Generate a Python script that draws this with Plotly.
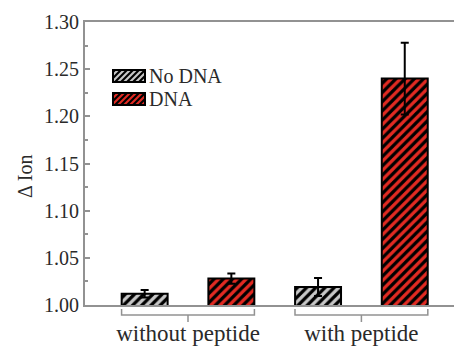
import plotly.graph_objects as go

# ---- data ----
groups = ["without peptide", "with peptide"]
series_names = ["No DNA", "DNA"]
no_dna = [1.012, 1.019]
no_dna_err = [0.004, 0.0095]
dna = [1.028, 1.240]
dna_err = [0.0055, 0.038]
ytick_vals = [1.00, 1.05, 1.10, 1.15, 1.20, 1.25, 1.30]
ytick_text = ["1.00", "1.05", "1.10", "1.15", "1.20", "1.25", "1.30"]

# ---- styling ----
W, H = 454, 346
ML, MR, MT, MB = 85, 0, 22, 41
PW, PH = W - ML - MR, H - MT - MB
XR = [-0.594, 1.534]
YR = [1.0, 1.30]
FONT = "Liberation Serif"
GRAY_FILL = "#c8c8c8"
RED_FILL = "#e22a22"
AXIS_COL = "#929292"
TXT_COL = "#2a2a2a"


def px2paper(px, py):
    return (px - ML) / PW, (H - MB - py) / PH


def cat2paper(x):
    return (x - XR[0]) / (XR[1] - XR[0])


fig = go.Figure()
for name, vals, errs, col in [
    (series_names[0], no_dna, no_dna_err, GRAY_FILL),
    (series_names[1], dna, dna_err, RED_FILL),
]:
    fig.add_trace(go.Bar(
        x=groups, y=vals, name=name, showlegend=False,
        marker=dict(
            color=col,
            line=dict(color="black", width=2),
            pattern=dict(shape="/", size=6.5, solidity=0.5, fgcolor="black",
                         bgcolor=col, fillmode="replace"),
        ),
        error_y=dict(type="data", array=errs, visible=True, color="black",
                     thickness=2, width=4),
    ))

shapes = []
# group brackets below the x axis
for i, g in enumerate(groups):
    xa = cat2paper(i - 0.383)
    xb = cat2paper(i + 0.383)
    xm = cat2paper(i)
    _, y_top = px2paper(0, 309)
    _, y_mid = px2paper(0, 315)
    _, y_bot = px2paper(0, 322)
    shapes.append(dict(type="path", xref="paper", yref="paper",
                       path=f"M{xa},{y_top} L{xa},{y_mid} L{xb},{y_mid} L{xb},{y_top} M{xm},{y_mid} L{xm},{y_bot}",
                       line=dict(color=AXIS_COL, width=1.5)))

# custom legend swatches
annotations = []
legend_rows = [(series_names[0], GRAY_FILL, 70, 82), (series_names[1], RED_FILL, 93, 105)]
for name, col, y0, y1 in legend_rows:
    x0, x1 = 113, 145
    p0 = px2paper(x0, y1)
    p1 = px2paper(x1, y0)
    shapes.append(dict(type="rect", xref="paper", yref="paper", x0=p0[0], y0=p0[1],
                       x1=p1[0], y1=p1[1], fillcolor=col, line=dict(width=0)))
    step = 6
    c = x0 + y0 + 2
    while c < x1 + y1:
        xa = max(x0, c - y1)
        xb = min(x1, c - y0)
        if xb > xa:
            a = px2paper(xa, c - xa)
            b = px2paper(xb, c - xb)
            shapes.append(dict(type="line", xref="paper", yref="paper",
                               x0=a[0], y0=a[1], x1=b[0], y1=b[1],
                               line=dict(color="black", width=2.2)))
        c += step
    shapes.append(dict(type="rect", xref="paper", yref="paper", x0=p0[0], y0=p0[1],
                       x1=p1[0], y1=p1[1], line=dict(color="black", width=2)))
    tx, ty = px2paper(147, (y0 + y1) / 2)
    annotations.append(dict(text=name, x=tx, y=ty, xref="paper", yref="paper",
                            xanchor="left", yanchor="middle", showarrow=False,
                            font=dict(family=FONT, size=20, color=TXT_COL)))

# y axis title
tx, ty = px2paper(25, 177)
annotations.append(dict(text="Δ Ion", x=tx, y=ty, xref="paper", yref="paper",
                        xanchor="center", yanchor="middle", textangle=-90,
                        showarrow=False, font=dict(family=FONT, size=20, color=TXT_COL)))

fig.update_layout(
    width=W, height=H,
    margin=dict(l=ML, r=MR, t=MT, b=MB, pad=0),
    paper_bgcolor="white", plot_bgcolor="white",
    barmode="group", bargap=0.0, bargroupgap=0.47,
    font=dict(family=FONT, size=20, color=TXT_COL),
    shapes=shapes, annotations=annotations,
    showlegend=False,
)
fig.update_xaxes(
    type="category", range=XR, showline=True, linecolor=AXIS_COL, linewidth=2,
    mirror=True, ticks="", showgrid=False, zeroline=False,
    tickfont=dict(family=FONT, size=23, color=TXT_COL),
    ticklabelstandoff=6, automargin=False,
)
fig.update_yaxes(
    range=YR, showline=True, linecolor=AXIS_COL, linewidth=2, mirror=False,
    tickvals=ytick_vals, ticktext=ytick_text, ticks="inside", ticklen=5,
    tickwidth=1.5, tickcolor=AXIS_COL, showgrid=False, zeroline=False,
    tickfont=dict(family=FONT, size=20, color=TXT_COL),
    minor=dict(dtick=0.025, ticks="inside", ticklen=3, tickcolor=AXIS_COL, tickwidth=1.5, showgrid=False),
    automargin=False,
)

fig.write_html("out.html", config={"displayModeBar": False},
               post_script="document.body.style.margin='0';document.body.style.overflow='hidden';")
